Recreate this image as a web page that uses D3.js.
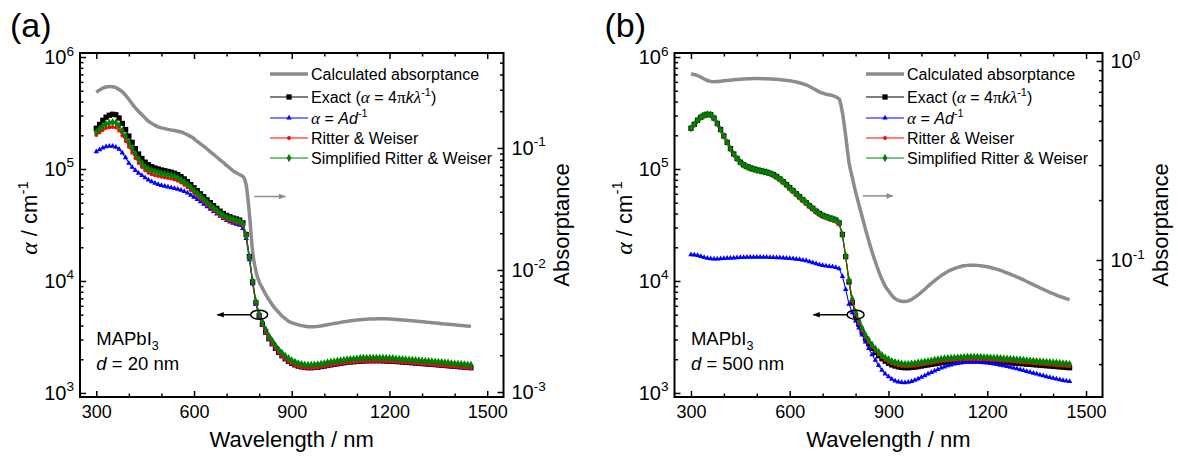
<!DOCTYPE html>
<html>
<head>
<meta charset="utf-8">
<script src="https://cdn.jsdelivr.net/npm/d3@7"></script>
<style>
  body { margin: 0; background: #fff; }
  svg text { font-family: "Liberation Sans", Arial, sans-serif; fill: #000; }
</style>
</head>
<body>
<svg id="chart" width="1178" height="459"></svg>
<script>
// wavelength grid (nm)
var wavelength = [300,310,320,330,340,350,360,370,380,390,400,410,420,430,440,450,460,470,480,490,
  500,510,520,530,540,550,560,570,580,590,600,610,620,630,640,650,660,670,680,690,
  700,710,720,730,740,750,760,770,780,790,800,810,820,830,840,850,860,870,880,890,
  900,910,920,930,940,950,960,970,980,990,1000,1010,1020,1030,1040,1050,1060,1070,1080,1090,
  1100,1110,1120,1130,1140,1150,1160,1170,1180,1190,1200,1210,1220,1230,1240,1250,1260,1270,1280,1290,
  1300,1310,1320,1330,1340,1350,1360,1370,1380,1390,1400,1410,1420,1430,1440,1450];

// exact alpha = 4*pi*k/lambda (cm-1), same in both panels
var exactAlpha = [231000,250000,272000,290000,302000,308000,305000,285000,255000,225000,
  197000,173000,152000,136000,124000,115000,109000,105000,102000,100000,
  98000,96500,95000,93500,91500,89000,85500,81500,77000,72500,
  68000,64000,60000,56500,53000,50000,47000,44500,42000,40000,
  38500,37500,36500,35800,35000,33000,26000,16500,9800,6400,
  4900,4100,3500,3050,2750,2500,2300,2150,2020,1920,
  1840,1780,1740,1710,1690,1680,1680,1690,1700,1720,
  1740,1760,1780,1800,1820,1840,1860,1880,1890,1900,
  1910,1920,1930,1935,1940,1940,1940,1940,1935,1930,
  1925,1920,1910,1900,1890,1880,1870,1860,1850,1840,
  1830,1820,1810,1800,1790,1780,1770,1760,1750,1740,
  1730,1720,1710,1700,1690,1680];

// (a) d = 20 nm
var absA = [0.286,0.298,0.309,0.316,0.319,0.318,0.312,0.301,0.288,0.270,
  0.250,0.230,0.213,0.199,0.187,0.176,0.166,0.159,0.153,0.149,
  0.146,0.144,0.142,0.140,0.139,0.137,0.135,0.132,0.128,0.124,
  0.119,0.113,0.108,0.103,0.098,0.093,0.0885,0.084,0.080,0.076,
  0.072,0.0685,0.065,0.0625,0.0605,0.0585,0.050,0.029,0.014,0.0098,
  0.0080,0.0071,0.0063,0.0057,0.0052,0.0048,0.0045,0.0042,0.0040,0.0038,
  0.0037,0.00362,0.00355,0.00350,0.00346,0.00343,0.00342,0.00343,0.00345,0.00348,
  0.00352,0.00356,0.00360,0.00364,0.00368,0.00372,0.00376,0.00380,0.00383,0.00386,
  0.00389,0.00391,0.00393,0.00395,0.00396,0.00397,0.00398,0.00398,0.00398,0.00398,
  0.00397,0.00395,0.00393,0.00391,0.00389,0.00387,0.00385,0.00383,0.00381,0.00379,
  0.00377,0.00375,0.00372,0.00370,0.00368,0.00366,0.00363,0.00361,0.00359,0.00357,
  0.00355,0.00353,0.00351,0.00349,0.00347,0.00345];
var adA = [143000,149000,154000,158000,160000,160000,157000,150000,139000,126000,
  113000,104000,97000,92000,87500,83500,80000,77000,74800,73000,
  71500,70200,69000,68000,67000,66000,64800,63000,61000,58500,
  56000,53500,51000,48500,46000,43800,41800,39800,37900,36200,
  34800,33700,32800,32100,31500,29500,24000,15500,9400,6200,
  4800,4020,3440,3000,2710,2470,2270,2120,2000,1900,
  1820,1760,1720,1690,1670,1660,1660,1670,1680,1700,
  1720,1740,1760,1780,1800,1820,1840,1860,1870,1880,
  1890,1900,1910,1915,1920,1920,1920,1920,1915,1910,
  1905,1900,1890,1880,1870,1860,1850,1840,1830,1820,
  1810,1800,1790,1780,1770,1760,1750,1740,1730,1720,
  1710,1700,1690,1680,1670,1660];
var rwA = [201000,212000,223000,232000,236000,237000,235000,221000,199000,178000,
  158000,140000,125000,113000,104000,97200,92700,89800,87700,86500,
  85300,84100,83100,82000,80500,78500,75700,72300,68500,64700,
  60900,57400,54000,51000,48000,45400,42800,40600,38400,36700,
  35400,34600,33800,33200,32600,31000,25000,16200,9700,6380,
  4890,4090,3490,3040,2740,2490,2290,2140,2010,1910,
  1830,1770,1730,1700,1680,1670,1670,1680,1690,1710,
  1730,1750,1770,1790,1810,1830,1850,1870,1880,1890,
  1900,1910,1920,1925,1930,1930,1930,1930,1925,1920,
  1915,1910,1900,1890,1880,1870,1860,1850,1840,1830,
  1820,1810,1800,1790,1780,1770,1760,1750,1740,1730,
  1720,1710,1700,1690,1680,1670];
var srwA = [213000,228000,242000,252000,258000,262000,259000,244000,219000,196000,
  173000,154000,136000,123000,113000,105000,100300,97100,94900,93300,
  91600,90400,89100,87800,86000,83700,80600,77000,72900,68800,
  64600,60900,57100,53800,50600,47800,45000,42700,40400,38500,
  37200,36300,35400,34800,34100,32300,25700,16500,10000,6590,
  5100,4300,3690,3230,2920,2650,2440,2280,2140,2040,
  1950,1890,1840,1810,1790,1780,1780,1790,1800,1820,
  1840,1870,1890,1910,1930,1950,1970,1990,2000,2010,
  2020,2040,2050,2050,2060,2060,2060,2060,2050,2050,
  2040,2040,2020,2010,2000,1990,1980,1970,1960,1950,
  1940,1930,1920,1910,1900,1890,1880,1870,1860,1840,
  1830,1820,1810,1800,1790,1780];

// (b) d = 500 nm
var absB = [0.860,0.855,0.845,0.830,0.812,0.798,0.790,0.787,0.788,0.791,
  0.795,0.798,0.801,0.804,0.807,0.810,0.812,0.814,0.815,0.816,
  0.816,0.816,0.815,0.814,0.813,0.811,0.809,0.806,0.803,0.799,
  0.795,0.790,0.784,0.777,0.768,0.758,0.745,0.730,0.714,0.700,
  0.689,0.681,0.676,0.670,0.660,0.645,0.550,0.420,0.310,0.260,
  0.220,0.190,0.165,0.143,0.125,0.110,0.098,0.088,0.080,0.074,
  0.0700,0.0665,0.0640,0.0627,0.0620,0.0618,0.0623,0.0634,0.0650,0.0668,
  0.0690,0.0713,0.0738,0.0763,0.0788,0.0812,0.0835,0.0856,0.0875,0.0892,
  0.0906,0.0918,0.0928,0.0935,0.0940,0.0942,0.0942,0.0940,0.0936,0.0931,
  0.0925,0.0917,0.0908,0.0898,0.0887,0.0875,0.0862,0.0849,0.0836,0.0822,
  0.0808,0.0794,0.0780,0.0766,0.0752,0.0738,0.0725,0.0712,0.0700,0.0688,
  0.0677,0.0667,0.0657,0.0648,0.0640,0.0633];
var adB = [17200,17100,16900,16600,16240,15960,15800,15740,15760,15820,
  15900,15960,16020,16080,16140,16200,16240,16280,16300,16320,
  16320,16320,16300,16280,16260,16220,16180,16120,16060,15980,
  15900,15800,15680,15540,15360,15160,14900,14600,14280,14000,
  13780,13620,13520,13400,13200,12900,11000,8400,6200,5200,
  4400,3800,3300,2860,2500,2200,1960,1760,1600,1480,
  1400,1330,1280,1254,1240,1236,1246,1268,1300,1336,
  1380,1426,1476,1526,1576,1624,1670,1712,1750,1784,
  1812,1836,1856,1870,1880,1884,1884,1880,1872,1862,
  1850,1834,1816,1796,1774,1750,1724,1698,1672,1644,
  1616,1588,1560,1532,1504,1476,1450,1424,1400,1376,
  1354,1334,1314,1296,1280,1266];
var rwB = [229000,248000,269000,287000,299000,305000,302000,282000,252000,223000,
  195000,171000,150000,135000,123000,114000,108000,104000,101000,99000,
  97000,95500,94000,92500,90000,86800,83200,79200,74800,70400,
  66000,62100,58200,54800,51400,48500,45600,43200,40700,38800,
  37300,36400,35400,34700,34000,32000,25400,16200,9900,6550,
  5030,4220,3600,3140,2830,2580,2370,2210,2080,1980,
  1900,1830,1790,1760,1740,1730,1730,1740,1750,1770,
  1790,1810,1830,1850,1870,1900,1920,1940,1950,1960,
  1970,1980,1990,1990,2000,2000,2000,2000,1990,1990,
  1980,1980,1970,1960,1950,1940,1930,1920,1910,1900,
  1880,1870,1860,1850,1840,1830,1820,1810,1800,1790,
  1780,1770,1760,1750,1740,1730];
var srwB = [231000,250000,272000,290000,302000,308000,305000,285000,255000,225000,
  197000,173000,152000,136000,124000,115000,109000,105000,102000,100000,
  98000,96500,95000,93500,91500,89000,85500,81500,77000,72500,
  68000,64000,60000,56500,53000,50000,47000,44500,42000,40000,
  38500,37500,36500,35800,35000,33000,26000,16800,10200,6910,
  5290,4430,3780,3290,2970,2700,2480,2320,2180,2070,
  1990,1920,1880,1850,1830,1810,1810,1830,1840,1860,
  1880,1900,1920,1940,1970,1990,2010,2030,2040,2050,
  2060,2070,2080,2090,2100,2100,2100,2100,2090,2080,
  2080,2070,2060,2050,2040,2030,2020,2010,2000,1990,
  1980,1970,1950,1940,1930,1920,1910,1900,1890,1880,
  1870,1860,1850,1840,1830,1810];

var xMajor = [300, 600, 900, 1200, 1500];
var xMinor = [400, 500, 700, 800, 1000, 1100, 1300, 1400];
var legendNames = [
  [["Calculated absorptance"]],
  [["Exact ("], ["α", "gi"], [" = 4"], ["π", "g"], ["k", "i"], ["λ", "gi"], ["-1", "sup"], [")"]],
  [["α", "gi"], [" = "], ["Ad", "i"], ["-1", "sup"]],
  [["Ritter & Weiser"]],
  [["Simplified Ritter & Weiser"]]
];

var svg = d3.select("#chart");
var TOP = 53, BOT = 397;

var defs = svg.append("defs");
[["arrGray", "#8c8c8c"], ["arrBlack", "#000"]].forEach(function (m) {
    defs.append("marker").attr("id", m[0]).attr("viewBox", "0 0 10 10")
        .attr("refX", 9).attr("refY", 5).attr("markerWidth", 8).attr("markerHeight", 7)
        .attr("markerUnits", "userSpaceOnUse").attr("orient", "auto")
        .append("path").attr("d", "M0,1L10,5L0,9Z").attr("fill", m[1]);
});

// text with italic / greek / super- and subscript pieces
function rich(t, segs, fs) {
    var shift = 0;
    segs.forEach(function (s) {
        var st = s[1] || "";
        var sp = t.append("tspan").text(s[0]);
        var target = 0;
        if (st == "sup") { target = -fs * 0.42; sp.attr("font-size", fs * 0.68); }
        else if (st == "sub") { target = fs * 0.28; sp.attr("font-size", fs * 0.68); }
        if (target - shift) sp.attr("dy", target - shift);
        shift = target;
        if (st == "g" || st == "gi") sp.attr("font-family", "Liberation Serif").attr("font-size", fs * 1.08);
        if (st == "i" || st == "gi") sp.attr("font-style", "italic");
    });
}

function logMinor(dom) {
    var out = [];
    for (var e = -4; e <= 6; e++)
        for (var m = 2; m <= 9; m++) {
            var v = m * Math.pow(10, e);
            if (v > dom[0] && v < dom[1]) out.push(v);
        }
    return out;
}

function powLabels(sel, fs) {
    sel.selectAll(".tick text").each(function (d) {
        var t = d3.select(this).text(null);
        rich(t, [["10"], [String(Math.round(Math.log10(d))), "sup"]], fs);
    });
}

function clean(sel) {
    sel.select(".domain").remove();
    sel.selectAll(".tick line").attr("stroke-width", 1.5);
    sel.attr("font-family", null).attr("font-size", null);
}

function drawPanel(p) {
    var g = svg.append("g");
    var x = d3.scaleLinear().domain([250, 1550]).range([p.x0, p.x1]);
    var y = d3.scaleLog().domain(p.yDom).range([BOT, TOP]);
    var y2 = d3.scaleLog().domain(p.y2Dom).range([BOT, TOP]);

    // gray absorptance curve (right axis)
    g.append("path")
        .attr("d", d3.line().curve(d3.curveMonotoneX)
            .x(function (d, i) { return x(wavelength[i]); })
            .y(function (d) { return y2(d); })(p.abs))
        .attr("fill", "none").attr("stroke", "#8c8c8c").attr("stroke-width", 3.5);

    var series = [
        { v: exactAlpha, c: "#000000", s: d3.symbolSquare, z: 28 },
        { v: p.ad, c: "#0000ff", s: d3.symbolTriangle, z: 13 },
        { v: p.rw, c: "#ff0000", s: d3.symbolCircle, z: 12 },
        { v: p.srw, c: "#008000", s: d3.symbolDiamond, z: 20 }
    ];
    var line = d3.line()
        .x(function (d, i) { return x(wavelength[i]); })
        .y(function (d) { return y(d); });
    series.forEach(function (s) {
        g.append("path").attr("d", line(s.v)).attr("fill", "none")
            .attr("stroke", s.c).attr("stroke-width", 1.1);
        g.append("g").selectAll("path").data(s.v).enter().append("path")
            .attr("d", d3.symbol().type(s.s).size(s.z))
            .attr("transform", function (d, i) { return "translate(" + x(wavelength[i]) + "," + y(d) + ")"; })
            .attr("fill", s.c);
    });

    // frame
    g.append("rect").attr("x", p.x0).attr("y", TOP).attr("width", p.x1 - p.x0).attr("height", BOT - TOP)
        .attr("fill", "none").attr("stroke", "#000").attr("stroke-width", 2);

    // x axes
    g.append("g").attr("transform", "translate(0," + BOT + ")")
        .call(d3.axisBottom(x).tickValues(xMajor).tickSize(-6).tickPadding(8).tickFormat(d3.format("d")))
        .call(clean).attr("font-size", 18);
    g.append("g").attr("transform", "translate(0," + BOT + ")")
        .call(d3.axisBottom(x).tickValues(xMinor).tickSize(-3.5).tickFormat("")).call(clean);
    g.append("g").attr("transform", "translate(0," + TOP + ")")
        .call(d3.axisTop(x).tickValues(xMajor).tickSize(-6).tickFormat("")).call(clean);
    g.append("g").attr("transform", "translate(0," + TOP + ")")
        .call(d3.axisTop(x).tickValues(xMinor).tickSize(-3.5).tickFormat("")).call(clean);

    // left axis
    var la = g.append("g").attr("transform", "translate(" + p.x0 + ",0)")
        .call(d3.axisLeft(y).tickValues([1e3, 1e4, 1e5, 1e6]).tickSize(-6).tickPadding(6))
        .call(clean).attr("font-size", 20);
    powLabels(la, 20);
    g.append("g").attr("transform", "translate(" + p.x0 + ",0)")
        .call(d3.axisLeft(y).tickValues(logMinor(p.yDom)).tickSize(-3.5).tickFormat("")).call(clean);

    // right axis
    var ra = g.append("g").attr("transform", "translate(" + p.x1 + ",0)")
        .call(d3.axisRight(y2).tickValues(p.y2Major).tickSize(-6).tickPadding(8))
        .call(clean).attr("font-size", 20);
    powLabels(ra, 20);
    g.append("g").attr("transform", "translate(" + p.x1 + ",0)")
        .call(d3.axisRight(y2).tickValues(logMinor(p.y2Dom)).tickSize(-3.5).tickFormat("")).call(clean);

    // titles
    g.append("text").attr("x", p.x0 - 70).attr("y", 37).attr("font-size", 34).text(p.tag);
    g.append("text").attr("x", (p.x0 + p.x1) / 2).attr("y", 447).attr("text-anchor", "middle")
        .attr("font-size", 22).text("Wavelength / nm");
    var yt = g.append("text").attr("transform", "translate(" + (p.x0 - 43) + ",218) rotate(-90)")
        .attr("text-anchor", "middle").attr("font-size", 22);
    rich(yt, [["α", "gi"], [" / cm"], ["-1", "sup"]], 22);
    g.append("text").attr("transform", "translate(" + (p.x1 + 65) + ",225) rotate(-90)")
        .attr("text-anchor", "middle").attr("font-size", 22).text("Absorptance");

    // sample label
    var s1 = g.append("text").attr("x", x(300)).attr("y", 345).attr("font-size", 18.5);
    rich(s1, [["MAPbI"], ["3", "sub"]], 18.5);
    var s2 = g.append("text").attr("x", x(300)).attr("y", 370).attr("font-size", 18.5);
    rich(s2, [["d", "i"], [" = " + p.film]], 18.5);

    // arrows: gray to right axis, black to left axis
    g.append("line").attr("x1", x(p.grayArrow[0])).attr("x2", x(p.grayArrow[1]))
        .attr("y1", y2(p.grayArrow[2])).attr("y2", y2(p.grayArrow[2]))
        .attr("stroke", "#8c8c8c").attr("stroke-width", 1.5).attr("marker-end", "url(#arrGray)");
    var ex = x(800), ey = y(5000);
    g.append("ellipse").attr("cx", ex).attr("cy", ey).attr("rx", 8.5).attr("ry", 4.5)
        .attr("fill", "none").attr("stroke", "#000").attr("stroke-width", 1.5);
    g.append("line").attr("x1", ex - 8.5).attr("x2", x(672)).attr("y1", ey).attr("y2", ey)
        .attr("stroke", "#000").attr("stroke-width", 1.5).attr("marker-end", "url(#arrBlack)");

    // legend
    var rows = [74, 97, 118, 138, 158];
    var lsym = [null, series[0], series[1], series[2], series[3]];
    legendNames.forEach(function (nm, i) {
        var ly = rows[i];
        if (i == 0) {
            g.append("line").attr("x1", p.lx).attr("x2", p.lx + 38).attr("y1", ly).attr("y2", ly)
                .attr("stroke", "#8c8c8c").attr("stroke-width", 3.5);
        } else {
            var s = lsym[i];
            g.append("line").attr("x1", p.lx).attr("x2", p.lx + 38).attr("y1", ly).attr("y2", ly)
                .attr("stroke", s.c).attr("stroke-width", 1.1);
            g.append("path").attr("d", d3.symbol().type(s.s).size(s.z))
                .attr("transform", "translate(" + (p.lx + 19) + "," + ly + ")").attr("fill", s.c);
        }
        var t = g.append("text").attr("x", p.lx + 41).attr("y", ly + 5.6).attr("font-size", 16);
        rich(t, nm, 16);
    });
}

drawPanel({ tag: "(a)", x0: 80, x1: 503.5, yDom: [920, 1.086e6], y2Dom: [9.1e-4, 0.6],
    y2Major: [1e-3, 1e-2, 1e-1], abs: absA, ad: adA, rw: rwA, srw: srwA,
    film: "20 nm", lx: 270, grayArrow: [785, 880, 0.04] });
drawPanel({ tag: "(b)", x0: 674.5, x1: 1102.5, yDom: [920, 1.086e6], y2Dom: [0.0205, 1.097],
    y2Major: [1e-1, 1], abs: absB, ad: adB, rw: rwB, srw: srwB,
    film: "500 nm", lx: 866, grayArrow: [822, 913, 0.21] });
</script>
</body>
</html>
